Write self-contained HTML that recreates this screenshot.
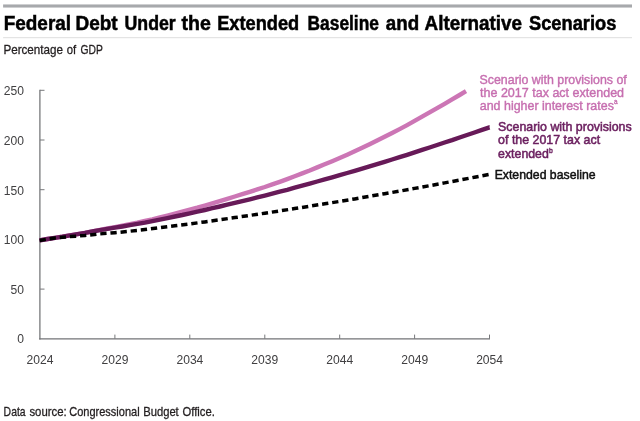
<!DOCTYPE html>
<html><head><meta charset="utf-8"><title>Federal Debt Under the Extended Baseline and Alternative Scenarios</title>
<style>
html,body{margin:0;padding:0;background:#fff;}
body{width:640px;height:421px;position:relative;overflow:hidden;font-family:"Liberation Sans",sans-serif;}
.t{position:absolute;display:block;margin:0;white-space:nowrap;transform-origin:0 0;}
h1{margin:0;font-size:inherit;font-weight:inherit;}
svg{position:absolute;left:0;top:0;}
svg text{font-family:"Liberation Sans",sans-serif;}
.ax line{stroke:#77787b;stroke-width:1;} .ax .main{stroke-width:1.25;stroke:#727376;}
.lbl{font-size:13.6px;fill:#414042;}
.sup{position:absolute;font-size:7.5px;line-height:8px;}
#title0{left:0;top:0;font-size:19.6px;line-height:24px;font-weight:bold;color:#000;-webkit-text-stroke:0.5px #000;transform:translate(3.68px,10.61px) scaleX(0.9668);}
#title1{left:0;top:0;font-size:19.6px;line-height:24px;font-weight:bold;color:#000;-webkit-text-stroke:0.5px #000;transform:translate(75.53px,10.61px) scaleX(0.9683);}
#title2{left:0;top:0;font-size:19.6px;line-height:24px;font-weight:bold;color:#000;-webkit-text-stroke:0.5px #000;transform:translate(124.54px,10.61px) scaleX(0.9049);}
#title3{left:0;top:0;font-size:19.6px;line-height:24px;font-weight:bold;color:#000;-webkit-text-stroke:0.5px #000;transform:translate(181.50px,10.61px) scaleX(0.9983);}
#title4{left:0;top:0;font-size:19.6px;line-height:24px;font-weight:bold;color:#000;-webkit-text-stroke:0.5px #000;transform:translate(217.21px,10.61px) scaleX(0.9293);}
#title5{left:0;top:0;font-size:19.6px;line-height:24px;font-weight:bold;color:#000;-webkit-text-stroke:0.5px #000;transform:translate(307.56px,10.61px) scaleX(0.8852);}
#title6{left:0;top:0;font-size:19.6px;line-height:24px;font-weight:bold;color:#000;-webkit-text-stroke:0.5px #000;transform:translate(385.76px,10.61px) scaleX(0.9571);}
#title7{left:0;top:0;font-size:19.6px;line-height:24px;font-weight:bold;color:#000;-webkit-text-stroke:0.5px #000;transform:translate(424.55px,10.61px) scaleX(0.9623);}
#title8{left:0;top:0;font-size:19.6px;line-height:24px;font-weight:bold;color:#000;-webkit-text-stroke:0.5px #000;transform:translate(528.96px,10.61px) scaleX(0.9328);}
#sub0{left:0;top:0;font-size:13.1px;line-height:16px;font-weight:normal;color:#231f20;-webkit-text-stroke:0.3px #231f20;transform:translate(3.39px,41.71px) scaleX(0.8897);}
#sub1{left:0;top:0;font-size:13.1px;line-height:16px;font-weight:normal;color:#231f20;-webkit-text-stroke:0.3px #231f20;transform:translate(66.78px,41.71px) scaleX(0.8636);}
#sub2{left:0;top:0;font-size:13.1px;line-height:16px;font-weight:normal;color:#231f20;-webkit-text-stroke:0.3px #231f20;transform:translate(80.54px,41.71px) scaleX(0.7873);}
#a1{left:0;top:0;font-size:13.5px;line-height:16px;font-weight:normal;color:#c76fb0;-webkit-text-stroke:0.42px #c76fb0;transform:translate(479.54px,72.32px) scaleX(0.9166);}
#a2{left:0;top:0;font-size:13.5px;line-height:16px;font-weight:normal;color:#c76fb0;-webkit-text-stroke:0.42px #c76fb0;transform:translate(480.00px,84.92px) scaleX(0.9273);}
#a3{left:0;top:0;font-size:13.5px;line-height:16px;font-weight:normal;color:#c76fb0;-webkit-text-stroke:0.42px #c76fb0;transform:translate(479.77px,97.52px) scaleX(0.9210);}
#b1{left:0;top:0;font-size:13.0px;line-height:16px;font-weight:normal;color:#6b1f5f;-webkit-text-stroke:0.55px #6b1f5f;transform:translate(498.10px,118.90px) scaleX(0.9525);}
#b2{left:0;top:0;font-size:13.0px;line-height:16px;font-weight:normal;color:#6b1f5f;-webkit-text-stroke:0.55px #6b1f5f;transform:translate(498.10px,132.40px) scaleX(0.9533);}
#b3{left:0;top:0;font-size:13.0px;line-height:16px;font-weight:normal;color:#6b1f5f;-webkit-text-stroke:0.55px #6b1f5f;transform:translate(498.10px,145.90px) scaleX(0.9481);}
#c1{left:0;top:0;font-size:13.1px;line-height:16px;font-weight:normal;color:#111;-webkit-text-stroke:0.5px #111;transform:translate(494.65px,167.36px) scaleX(0.9363);}
#src0{left:0;top:0;font-size:12.6px;line-height:15px;font-weight:normal;color:#231f20;-webkit-text-stroke:0.3px #231f20;transform:translate(3.62px,405.48px) scaleX(0.8254);}
#src1{left:0;top:0;font-size:12.6px;line-height:15px;font-weight:normal;color:#231f20;-webkit-text-stroke:0.3px #231f20;transform:translate(29.41px,405.48px) scaleX(0.9019);}
#src2{left:0;top:0;font-size:12.6px;line-height:15px;font-weight:normal;color:#231f20;-webkit-text-stroke:0.3px #231f20;transform:translate(69.20px,405.48px) scaleX(0.8748);}
#src3{left:0;top:0;font-size:12.6px;line-height:15px;font-weight:normal;color:#231f20;-webkit-text-stroke:0.3px #231f20;transform:translate(143.19px,405.48px) scaleX(0.8905);}
#src4{left:0;top:0;font-size:12.6px;line-height:15px;font-weight:normal;color:#231f20;-webkit-text-stroke:0.3px #231f20;transform:translate(182.55px,405.48px) scaleX(0.8921);}
</style></head><body>
<svg width="640" height="421" viewBox="0 0 640 421">
<rect x="3.1" y="4.45" width="628.9" height="3.1" fill="#a7a9ac"/><rect x="3.1" y="37.2" width="628.9" height="1" fill="#dedede"/>
<g class="ax"><line class="main" x1="39.9" y1="89.8" x2="39.9" y2="339.5"/><line class="main" x1="39.2" y1="338.90000000000003" x2="490" y2="338.90000000000003"/><line x1="114.9" y1="338.8" x2="114.9" y2="334.6"/><line x1="189.8" y1="338.8" x2="189.8" y2="334.6"/><line x1="264.8" y1="338.8" x2="264.8" y2="334.6"/><line x1="339.7" y1="338.8" x2="339.7" y2="334.6"/><line x1="414.6" y1="338.8" x2="414.6" y2="334.6"/><line x1="489.5" y1="338.8" x2="489.5" y2="334.6"/><line x1="40" y1="289.1" x2="44.5" y2="289.1"/><line x1="40" y1="239.4" x2="44.5" y2="239.4"/><line x1="40" y1="189.7" x2="44.5" y2="189.7"/><line x1="40" y1="140.0" x2="44.5" y2="140.0"/><line x1="40" y1="90.3" x2="44.5" y2="90.3"/></g>
<g class="lbl"><text transform="translate(40.05,363.9) scale(0.89,1)" text-anchor="middle">2024</text><text transform="translate(114.97,363.9) scale(0.89,1)" text-anchor="middle">2029</text><text transform="translate(189.89,363.9) scale(0.89,1)" text-anchor="middle">2034</text><text transform="translate(264.81,363.9) scale(0.89,1)" text-anchor="middle">2039</text><text transform="translate(339.73,363.9) scale(0.89,1)" text-anchor="middle">2044</text><text transform="translate(414.65,363.9) scale(0.89,1)" text-anchor="middle">2049</text><text transform="translate(489.57,363.9) scale(0.89,1)" text-anchor="middle">2054</text><text transform="translate(24,343.40) scale(0.89,1)" text-anchor="end">0</text><text transform="translate(24,294.00) scale(0.89,1)" text-anchor="end">50</text><text transform="translate(24,244.30) scale(0.89,1)" text-anchor="end">100</text><text transform="translate(24,194.60) scale(0.89,1)" text-anchor="end">150</text><text transform="translate(24,144.90) scale(0.89,1)" text-anchor="end">200</text><text transform="translate(24,95.20) scale(0.89,1)" text-anchor="end">250</text></g>
<path d="M39.6,240.4 L47.5,239.0 L55.0,237.9 L62.5,236.7 L70.0,235.3 L77.5,234.1 L85.0,232.8 L92.4,231.4 L99.9,229.8 L107.4,228.5 L114.9,227.1 L122.4,225.7 L129.9,224.2 L137.4,222.7 L144.9,221.0 L152.4,219.3 L159.9,217.4 L167.4,215.6 L174.9,213.7 L182.3,211.7 L189.8,209.7 L197.3,207.7 L204.8,205.5 L212.3,203.3 L219.8,201.1 L227.3,198.8 L234.8,196.5 L242.3,194.2 L249.8,191.8 L257.3,189.4 L264.8,187.0 L272.3,184.4 L279.7,181.8 L287.2,179.1 L294.7,176.3 L302.2,173.4 L309.7,170.5 L317.2,167.4 L324.7,164.3 L332.2,161.2 L339.7,158.0 L347.2,154.7 L354.7,151.3 L362.2,147.8 L369.6,144.2 L377.1,140.5 L384.6,136.8 L392.1,133.0 L399.6,129.1 L407.1,125.1 L414.6,120.9 L422.1,116.7 L429.6,112.4 L437.1,108.1 L444.6,103.8 L452.1,99.4 L459.6,95.0 L466.0,91.2" fill="none" stroke="#cc76b5" stroke-width="4.4" stroke-linejoin="round"/>
<path d="M39.6,240.4 L47.5,239.0 L55.0,237.9 L62.5,236.7 L70.0,235.3 L77.5,234.1 L85.0,232.9 L92.4,231.5 L99.9,230.1 L107.4,228.9 L114.9,227.7 L122.4,226.5 L129.9,225.2 L137.4,223.9 L144.9,222.6 L152.4,221.1 L159.9,219.6 L167.4,218.1 L174.9,216.5 L182.3,215.0 L189.8,213.3 L197.3,211.7 L204.8,210.0 L212.3,208.2 L219.8,206.5 L227.3,204.7 L234.8,202.9 L242.3,201.1 L249.8,199.3 L257.3,197.4 L264.8,195.6 L272.3,193.7 L279.7,191.7 L287.2,189.8 L294.7,187.7 L302.2,185.7 L309.7,183.6 L317.2,181.5 L324.7,179.4 L332.2,177.3 L339.7,175.2 L347.2,173.0 L354.7,170.8 L362.2,168.6 L369.6,166.4 L377.1,164.1 L384.6,161.8 L392.1,159.5 L399.6,157.2 L407.1,154.8 L414.6,152.4 L422.1,149.9 L429.6,147.5 L437.1,145.0 L444.6,142.5 L452.1,140.1 L459.6,137.5 L467.0,135.0 L474.5,132.5 L482.0,129.9 L489.5,127.3 L489.6,127.3" fill="none" stroke="#671a58" stroke-width="4.4" stroke-linejoin="round"/>
<path d="M39.6,240.4 L55.0,237.9 L70.0,236.6 L85.0,235.5 L99.9,233.9 L114.9,232.7 L129.9,231.2 L144.9,229.6 L159.9,227.7 L174.9,225.8 L189.8,223.9 L204.8,221.9 L219.8,219.8 L234.8,217.6 L249.8,215.4 L264.8,213.2 L279.7,210.9 L294.7,208.6 L309.7,206.2 L324.7,203.8 L339.7,201.4 L354.7,198.9 L369.6,196.3 L384.6,193.7 L399.6,191.1 L414.6,188.4 L429.6,185.7 L444.6,182.9 L459.6,180.1 L474.5,177.2 L488.6,174.5" fill="none" stroke="#000" stroke-width="3.5" stroke-dasharray="6.3 3.876" stroke-linejoin="round"/>
</svg>
<h1><span class="t" id="title0">Federal</span> <span class="t" id="title1">Debt</span> <span class="t" id="title2">Under</span> <span class="t" id="title3">the</span> <span class="t" id="title4">Extended</span> <span class="t" id="title5">Baseline</span> <span class="t" id="title6">and</span> <span class="t" id="title7">Alternative</span> <span class="t" id="title8">Scenarios</span></h1>
<div><span class="t" id="sub0">Percentage</span> <span class="t" id="sub1">of</span> <span class="t" id="sub2">GDP</span></div>
<div><span class="t" id="a1">Scenario with provisions of</span>
<span class="t" id="a2">the 2017 tax act extended</span>
<span class="t" id="a3">and higher interest rates</span>
<span class="t" id="b1">Scenario with provisions</span>
<span class="t" id="b2">of the 2017 tax act</span>
<span class="t" id="b3">extended</span>
<span class="t" id="c1">Extended baseline</span></div>
<div><span class="t" id="src0">Data</span> <span class="t" id="src1">source:</span> <span class="t" id="src2">Congressional</span> <span class="t" id="src3">Budget</span> <span class="t" id="src4">Office.</span></div>
<div class="sup" style="left:613.9px;top:98.3px;font-size:8px;transform:scaleX(0.8);transform-origin:0 0;color:#c76fb0;-webkit-text-stroke:0.4px #c76fb0;">a</div>
<div class="sup" style="left:548.8px;top:147.0px;font-size:8px;transform:scaleX(0.85);transform-origin:0 0;color:#6b1f5f;-webkit-text-stroke:0.45px #6b1f5f;">b</div>
</body></html>
